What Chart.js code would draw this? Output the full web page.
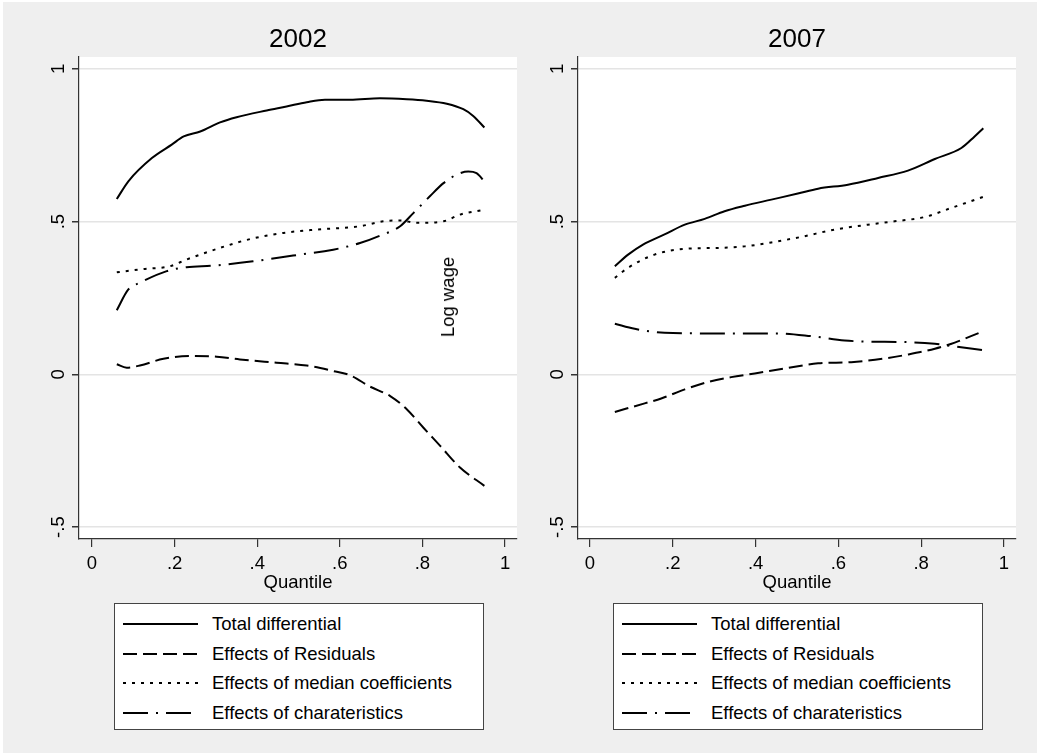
<!DOCTYPE html>
<html>
<head>
<meta charset="utf-8">
<script src="https://cdn.jsdelivr.net/npm/chart.js@4.4.1/dist/chart.umd.min.js"></script>
<style>
body { margin: 0; background: #fff; font-family: "Liberation Sans", Arial, sans-serif; }
#page { position: absolute; left: 3px; top: 2px; width: 1034px; height: 751px; background: #efefef; }
canvas { position: absolute; top: 0; }
#ylab { position: absolute; left: 448px; top: 297px; font-size: 18.5px; color: #000;
        transform: translate(-50%, -50%) rotate(-90deg); white-space: nowrap; }
.legend { position: absolute; top: 603px; width: 368px; height: 125px; background: #fff;
          border: 1px solid #444; }
.legend .row { position: absolute; left: 8px; height: 24px; display: flex; align-items: center;
               font-size: 18.5px; color: #000; white-space: nowrap; }
.legend svg { margin-right: 14px; }
</style>
</head>
<body>
<div id="page"></div>
<canvas id="c2002" width="518" height="600" style="left:0px"></canvas>
<canvas id="c2007" width="519" height="600" style="left:518px"></canvas>
<div id="ylab">Log wage</div>
<div class="legend" id="leg2002" style="left:114px"></div>
<div class="legend" id="leg2007" style="left:613px"></div>
<script>
// axis ticks
var yTickValues = [-0.5, 0, 0.5, 1];
var yTickLabels = ["-.5", "0", ".5", "1"];
var xTickValues = [0, 0.2, 0.4, 0.6, 0.8, 1];
var xTickLabels = ["0", ".2", ".4", ".6", ".8", "1"];

var seriesNames = ["Total differential", "Effects of Residuals",
                   "Effects of median coefficients", "Effects of charateristics"];

// 2002
var q02Total = [0.06, 0.088, 0.145, 0.193, 0.222, 0.262, 0.31, 0.35, 0.423, 0.471, 0.52, 0.564, 0.625, 0.697, 0.762, 0.81, 0.859, 0.899, 0.923, 0.95];
var v02Total = [0.574, 0.632, 0.708, 0.752, 0.779, 0.795, 0.825, 0.842, 0.864, 0.877, 0.891, 0.899, 0.899, 0.904, 0.901, 0.896, 0.886, 0.868, 0.846, 0.808];
var q02Resid = [0.06, 0.084, 0.116, 0.173, 0.237, 0.302, 0.358, 0.447, 0.52, 0.584, 0.625, 0.673, 0.722, 0.762, 0.802, 0.843, 0.891, 0.95];
var v02Resid = [0.033, 0.022, 0.029, 0.051, 0.060, 0.058, 0.049, 0.038, 0.029, 0.011, -0.003, -0.040, -0.071, -0.114, -0.174, -0.234, -0.305, -0.365];
var q02Median = [0.06, 0.124, 0.189, 0.229, 0.31, 0.383, 0.463, 0.544, 0.649, 0.705, 0.746, 0.786, 0.851, 0.891, 0.95];
var v02Median = [0.334, 0.345, 0.354, 0.376, 0.414, 0.443, 0.463, 0.474, 0.485, 0.501, 0.504, 0.496, 0.501, 0.523, 0.539];
var q02Chars = [0.06, 0.088, 0.116, 0.181, 0.229, 0.293, 0.39, 0.487, 0.584, 0.649, 0.697, 0.746, 0.778, 0.818, 0.851, 0.883, 0.911, 0.931, 0.95];
var v02Chars = [0.210, 0.278, 0.300, 0.338, 0.351, 0.356, 0.370, 0.389, 0.408, 0.430, 0.454, 0.485, 0.528, 0.583, 0.626, 0.654, 0.664, 0.659, 0.632];

// 2007
var q07Total = [0.06, 0.092, 0.128, 0.18, 0.229, 0.277, 0.325, 0.374, 0.438, 0.502, 0.551, 0.623, 0.696, 0.768, 0.833, 0.897, 0.929, 0.95];
var v07Total = [0.354, 0.392, 0.425, 0.458, 0.490, 0.509, 0.534, 0.552, 0.572, 0.592, 0.608, 0.621, 0.643, 0.667, 0.705, 0.741, 0.779, 0.806];
var q07Resid = [0.06, 0.132, 0.172, 0.229, 0.285, 0.341, 0.398, 0.47, 0.551, 0.631, 0.712, 0.768, 0.833, 0.881, 0.94];
var v07Resid = [-0.123, -0.095, -0.079, -0.049, -0.025, -0.009, 0.003, 0.019, 0.036, 0.040, 0.052, 0.065, 0.084, 0.104, 0.136];
var q07Median = [0.06, 0.092, 0.156, 0.229, 0.309, 0.374, 0.438, 0.51, 0.591, 0.671, 0.736, 0.808, 0.873, 0.95];
var v07Median = [0.316, 0.349, 0.392, 0.411, 0.414, 0.419, 0.432, 0.450, 0.474, 0.490, 0.501, 0.515, 0.545, 0.581];
var q07Chars = [0.06, 0.108, 0.18, 0.309, 0.454, 0.535, 0.615, 0.671, 0.752, 0.833, 0.873, 0.95];
var v07Chars = [0.166, 0.149, 0.136, 0.134, 0.134, 0.125, 0.111, 0.107, 0.106, 0.100, 0.093, 0.079];

var dashes = [[], [14, 6], [3, 6], [25, 8, 2, 8]];
var FONT = '"Liberation Sans", Arial, sans-serif';

function toPoints(q, v) {
    return q.map((x, i) => ({ x: x, y: v[i] }));
}

// white plot region behind the lines
const plotBg = {
    id: "plotBg",
    beforeDraw(chart) {
        const a = chart.chartArea;
        chart.ctx.save();
        chart.ctx.fillStyle = "#fff";
        chart.ctx.fillRect(a.left, a.top, a.right - a.left, a.bottom - a.top);
        chart.ctx.restore();
    }
};

// rotated y tick labels, like the stata output
const yLabels = {
    id: "yLabels",
    afterDraw(chart) {
        const ys = chart.scales.y;
        const ctx = chart.ctx;
        ctx.save();
        ctx.font = "18.5px " + FONT;
        ctx.fillStyle = "#000";
        ctx.textAlign = "center";
        ctx.textBaseline = "alphabetic";
        yTickValues.forEach((v, i) => {
            ctx.save();
            ctx.translate(ys.right - 15, ys.getPixelForValue(v));
            ctx.rotate(-Math.PI / 2);
            ctx.fillText(yTickLabels[i], 0, 0);
            ctx.restore();
        });
        ctx.restore();
    }
};

function newChart(canvasId, title, pts, yWidth, rightPad, xMin, xMax) {
    let datasets = pts.map((p, i) => ({
        label: seriesNames[i],
        data: p,
        borderColor: "#000",
        borderWidth: 2,
        borderDash: dashes[i],
        pointRadius: 0,
        fill: false,
        cubicInterpolationMode: "monotone"
    }));
    return new Chart(document.getElementById(canvasId), {
        type: "line",
        data: { datasets: datasets },
        options: {
            responsive: false,
            animation: false,
            layout: { padding: { left: 0, right: rightPad, top: 0, bottom: 0 } },
            plugins: {
                legend: { display: false },
                tooltip: { enabled: false },
                title: {
                    display: true,
                    text: title,
                    fullSize: false,
                    color: "#000",
                    font: { size: 26, family: FONT, weight: "normal", lineHeight: 1.2 },
                    padding: { top: 24.4, bottom: 1.4 }
                }
            },
            scales: {
                x: {
                    type: "linear",
                    min: xMin,
                    max: xMax,
                    afterBuildTicks: (s) => { s.ticks = xTickValues.map(v => ({ value: v })); },
                    afterFit: (s) => { s.height = 61; },
                    ticks: {
                        autoSkip: false,
                        maxRotation: 0,
                        padding: 6,
                        color: "#000",
                        font: { size: 18.5, family: FONT },
                        callback: (v, i) => xTickLabels[i]
                    },
                    grid: { drawOnChartArea: false, tickColor: "#333", tickLength: 8, lineWidth: 1.2 },
                    border: { display: true, color: "#333", width: 1.2 },
                    title: {
                        display: true,
                        text: "Quantile",
                        color: "#000",
                        font: { size: 18.5, family: FONT, lineHeight: 1.2 },
                        padding: { top: 0, bottom: 6 }
                    }
                },
                y: {
                    min: -0.539,
                    max: 1.039,
                    afterBuildTicks: (s) => { s.ticks = yTickValues.map(v => ({ value: v })); },
                    afterFit: (s) => { s.width = yWidth; },
                    ticks: { display: false },
                    grid: { color: "#e4e4e4", lineWidth: 1.5, tickColor: "#333", tickLength: 7 },
                    border: { display: true, color: "#333", width: 1.2 }
                }
            }
        },
        plugins: [plotBg, yLabels]
    });
}

function buildLegend(chart, id) {
    let box = document.getElementById(id);
    chart.data.datasets.forEach((ds, i) => {
        let row = document.createElement("div");
        row.className = "row";
        row.style.top = (8 + i * 29.7) + "px";
        row.innerHTML = '<svg width="75" height="6"><line x1="0" y1="3" x2="75" y2="3" stroke="#000" stroke-width="2" stroke-dasharray="' +
            ds.borderDash.join(" ") + '"/></svg><span>' + ds.label + '</span>';
        box.appendChild(row);
    });
}

var chart02 = newChart("c2002", "2002",
    [toPoints(q02Total, v02Total), toPoints(q02Resid, v02Resid), toPoints(q02Median, v02Median), toPoints(q02Chars, v02Chars)],
    79, 1, -0.0315, 1.029);
var chart07 = newChart("c2007", "2007",
    [toPoints(q07Total, v07Total), toPoints(q07Resid, v07Resid), toPoints(q07Median, v07Median), toPoints(q07Chars, v07Chars)],
    60, 21, -0.029, 1.029);

buildLegend(chart02, "leg2002");
buildLegend(chart07, "leg2007");
</script>
</body>
</html>
